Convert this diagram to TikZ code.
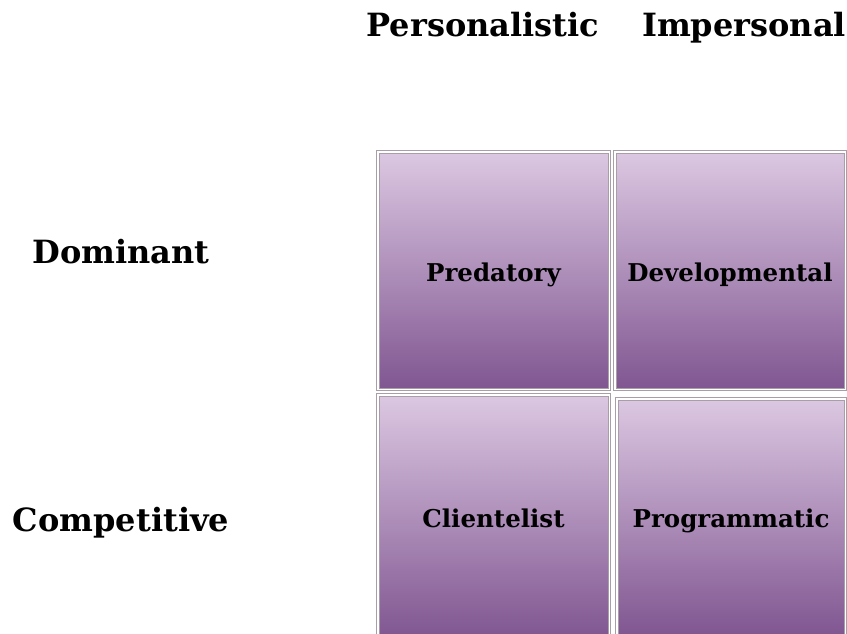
\documentclass[tikz,border=0pt]{standalone}
\usepackage{fontspec}
\setmainfont{DejaVu Serif}
\definecolor{celltop}{RGB}{220,200,226}
\definecolor{cellbottom}{RGB}{128,86,145}
\definecolor{cellline}{RGB}{168,158,168}
\begin{document}
\begin{tikzpicture}[x=1pt,y=-1pt]
\tikzstyle{cell}=[draw=cellline, line width=1pt, double=white, double distance=1.5pt,
    top color=celltop, bottom color=cellbottom, inner sep=0pt,
    text height=21pt, text depth=0pt,
    font=\fontsize{24.5}{28}\selectfont\bfseries]
\tikzstyle{heading}=[anchor=base, inner sep=0pt, font=\fontsize{32}{38}\selectfont\bfseries]

\useasboundingbox (0,0) rectangle (847,634);
\clip (0,0) rectangle (847,634);

\node[heading] (pers) at (483, 37) {Personalistic};
\node[heading] (imp)  at (744, 37) {Impersonal};
\node[heading] (dom)  at (121,263) {Dominant};
\node[heading] (comp) at (121,531) {Competitive};

\node[cell, minimum width=231.5pt, minimum height=237.5pt] (pred) at (493.5,270.5) {Predatory};
\node[cell, minimum width=230.5pt, minimum height=237.5pt] (dev)  at (730,270.5) {Developmental};
\node[cell, minimum width=231.5pt, minimum height=243.5pt] (cli)  at (493.5,516.5) {Clientelist};
\node[cell, minimum width=228.5pt, minimum height=236.5pt] (prog) at (731,517) {Programmatic};
\end{tikzpicture}
\end{document}
